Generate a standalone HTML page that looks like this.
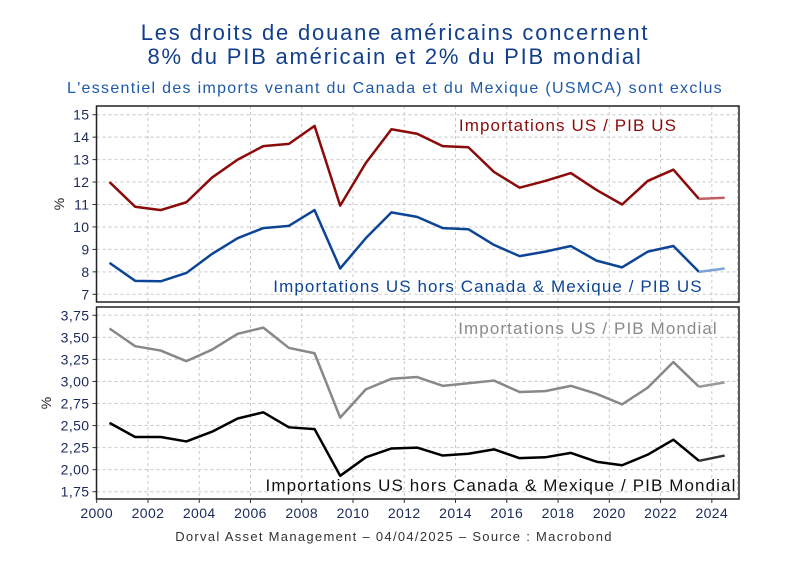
<!DOCTYPE html>
<html><head><meta charset="utf-8"><style>
body{margin:0;background:#fff;width:810px;height:562px;overflow:hidden;font-family:"Liberation Sans",sans-serif}
</style></head><body>
<svg id="c" width="810" height="562" xmlns="http://www.w3.org/2000/svg">
<text x="395" y="40" text-anchor="middle" font-size="22" letter-spacing="1.8" fill="#123f8c">Les droits de douane américains concernent</text>
<text x="395" y="64" text-anchor="middle" font-size="22" letter-spacing="1.8" fill="#123f8c">8% du PIB américain et 2% du PIB mondial</text>
<text x="395" y="93" text-anchor="middle" font-size="16" letter-spacing="1.3" fill="#1f5aa8">L'essentiel des imports venant du Canada et du Mexique (USMCA) sont exclus</text>
<text x="394" y="541" text-anchor="middle" font-size="13" letter-spacing="1.3" fill="#333">Dorval Asset Management – 04/04/2025 –   Source : Macrobond</text>
<g id="g"></g>
</svg>
<script>
const years=[2000,2001,2002,2003,2004,2005,2006,2007,2008,2009,2010,2011,2012,2013,2014,2015,2016,2017,2018,2019,2020,2021,2022,2023,2024];
const importsUsGdpUs=[12.0,10.9,10.75,11.1,12.2,13.0,13.6,13.7,14.5,10.95,12.85,14.35,14.15,13.6,13.55,12.45,11.75,12.05,12.4,11.65,11.0,12.05,12.55,11.25,11.3];
const importsExGdpUs=[8.4,7.6,7.58,7.95,8.8,9.5,9.95,10.05,10.75,8.15,9.5,10.65,10.45,9.95,9.9,9.2,8.7,8.9,9.15,8.5,8.2,8.9,9.15,8.0,8.15];
const importsUsGdpWorld=[3.60,3.40,3.35,3.23,3.36,3.54,3.61,3.38,3.32,2.59,2.91,3.03,3.05,2.95,2.98,3.01,2.88,2.89,2.95,2.86,2.74,2.93,3.22,2.94,2.99];
const importsExGdpWorld=[2.53,2.37,2.37,2.32,2.43,2.58,2.65,2.48,2.46,1.93,2.14,2.24,2.25,2.16,2.18,2.23,2.13,2.14,2.19,2.09,2.05,2.17,2.34,2.10,2.16];
const topTicks=[7,8,9,10,11,12,13,14,15];
const botTicks=["1,75","2,00","2,25","2,50","2,75","3,00","3,25","3,50","3,75"];
const xTicks=[2000,2002,2004,2006,2008,2010,2012,2014,2016,2018,2020,2022,2024];

const NS="http://www.w3.org/2000/svg",g=document.getElementById('g');
function el(t,a,p){const e=document.createElementNS(NS,t);for(const k in a)e.setAttribute(k,a[k]);(p||g).appendChild(e);return e;}
const X=v=>96.7+(v-2000)*25.63;
const Yt=v=>294.3-(v-7)*22.45;
const Yb=v=>491.7-(v-1.75)*88.2;
const L=96.5,R=739;
[[106,302,topTicks.map(Yt),topTicks.map(String),'top'],[307,499,botTicks.map(s=>Yb(parseFloat(s.replace(',','.')))),botTicks,'bottom']].forEach(([t,b,ys,labs,nm])=>{
  xTicks.concat([2025]).forEach(yr=>{const x=X(yr);if(x<R-1){const e=el('line',{x1:x,x2:x,y1:t,y2:b,stroke:'#c8c8c8','stroke-dasharray':'3,3'});}});
  ys.forEach((y,i)=>{const e=el('line',{x1:L,x2:R,y1:y,y2:y,stroke:'#c8c8c8','stroke-dasharray':'3,3'});
    const tk=el('line',{x1:L-4,x2:L,y1:y,y2:y,stroke:'#333'});
    const tx=el('text',{x:L-7,y:y+5,'text-anchor':'end','font-size':14,'letter-spacing':0.4,fill:'#1a2a5a'});tx.textContent=labs[i];});
  const r=el('rect',{x:L,y:t,width:R-L,height:b-t,fill:'none',stroke:'#222','stroke-width':1.5});
  const yl=el('text',{x:0,y:0,transform:`translate(${nm=='top'?64:51},${(t+b)/2}) rotate(-90)`,'text-anchor':'middle','font-size':14,fill:'#222'});yl.textContent='%';
});
xTicks.forEach(yr=>{const x=X(yr);const tk=el('line',{x1:x,x2:x,y1:499,y2:503,stroke:'#333'});
  const tx=el('text',{x:x,y:518,'text-anchor':'middle','font-size':14,'letter-spacing':0.4,fill:'#1a2a5a'});tx.textContent=yr;});
function series(vals,Y,col,light,name){
  const pts=vals.map((v,i)=>[X(years[i]+0.5),Y(v)]);
  const main=el('polyline',{points:pts.slice(0,-1).map(p=>p.join(',')).join(' '),fill:'none',stroke:col,'stroke-width':2.5,'stroke-linejoin':'round'});
  
  const est=el('polyline',{points:pts.slice(-2).map(p=>p.join(',')).join(' '),fill:'none',stroke:light,'stroke-width':2.5});
  
}
series(importsUsGdpUs,Yt,'#8b0a0a','#c06060','line-imports-us-gdp-us');
series(importsExGdpUs,Yt,'#0d4596','#7fa3d6','line-imports-ex-gdp-us');
series(importsUsGdpWorld,Yb,'#888888','#999999','line-imports-us-gdp-world');
series(importsExGdpWorld,Yb,'#000000','#333333','line-imports-ex-gdp-world');
[[568,131,'#8b0a0a','Importations US / PIB US','label-imports-us-gdp-us'],[488,292,'#0d4596','Importations US hors Canada & Mexique / PIB US','label-imports-ex-gdp-us'],[588,334,'#8a8a8a','Importations US / PIB Mondial','label-imports-us-gdp-world'],[501,491,'#111','Importations US hors Canada & Mexique / PIB Mondial','label-imports-ex-gdp-world']].forEach(([x,y,c,t,n])=>{
  const e=el('text',{x:x,y:y,'text-anchor':'middle','font-size':17,'letter-spacing':1.1,fill:c});e.textContent=t;});
</script>
</body></html>
